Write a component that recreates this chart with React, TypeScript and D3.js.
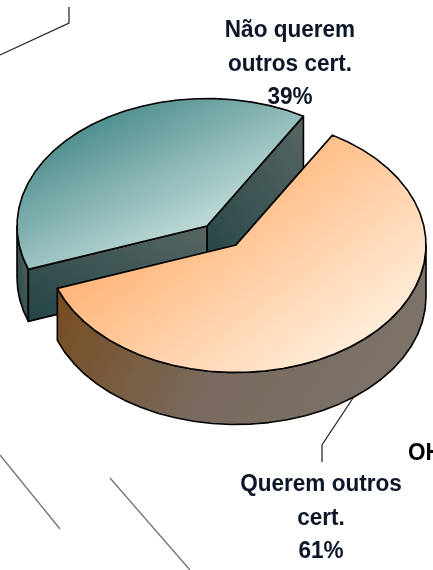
import * as d3 from "d3";

const categories = ["Não querem outros cert.", "Querem outros cert."];
const shares = [39, 61];
const labelLines = [
  ["Não querem", "outros cert.", "39%"],
  ["Querem outros", "cert.", "61%"],
];

const width = 433;
const height = 570;
const rx = 190;
const ry = 127.5;
const depth = 52;
const font = "'Liberation Sans', Arial, sans-serif";

// pie order in the picture: orange runs clockwise from the top right, teal fills the rest
const arcs = d3
  .pie<number>()
  .sort(null)
  .startAngle((30.5 * Math.PI) / 180 - 2 * Math.PI * 0.39)
  .endAngle((30.5 * Math.PI) / 180 + 2 * Math.PI * 0.61)(shares);

const centers = [
  { x: 207, y: 226 },
  { x: 236, y: 245 },
];
const line = d3.line<[number, number]>();

const rim = (cx: number, cy: number, a0: number, a1: number, dy = 0) => {
  const steps = Math.ceil(Math.abs(a1 - a0) / 0.1);
  return d3
    .range(steps + 1)
    .map((i) => a0 + ((a1 - a0) * i) / steps)
    .map((a) => [cx + rx * Math.sin(a), cy + dy - ry * Math.cos(a)] as [number, number]);
};

const topFace = (i: number) => {
  const { x, y } = centers[i];
  const a = arcs[i];
  return line([[x, y], ...rim(x, y, a.startAngle, a.endAngle)]) + "Z";
};

// outer wall between two angles, only the part that faces the viewer
const wall = (i: number, a0: number, a1: number) => {
  const { x, y } = centers[i];
  return line([...rim(x, y, a0, a1), ...rim(x, y, a1, a0, depth)]) + "Z";
};

const cut = (i: number, angle: number) => {
  const { x, y } = centers[i];
  const [[px, py]] = rim(x, y, angle, angle + 0.1);
  return line([[x, y], [px, py], [px, py + depth], [x, y + depth]]) + "Z";
};

export default function App() {
  const teal = arcs[0];
  const orange = arcs[1];
  return (
    <svg
      width={width}
      height={height}
      viewBox={`0 0 ${width} ${height}`}
      style={{ position: "absolute", left: 0, top: 0, background: "#fff" }}
      aria-label={categories.join(", ")}
    >
      <defs>
        <linearGradient id="tealTop" x1="0.1" y1="0.1" x2="0.8" y2="0.9">
          <stop offset="0" stopColor="#3a8180" />
          <stop offset="0.85" stopColor="#c6dfdd" />
        </linearGradient>
        <linearGradient id="orangeTop" x1="0.05" y1="0.15" x2="0.85" y2="0.85">
          <stop offset="0.12" stopColor="#ffa862" />
          <stop offset="1" stopColor="#ffedda" />
        </linearGradient>
        <linearGradient id="orangeWall" x1="0" y1="0" x2="1" y2="0.3">
          <stop offset="0" stopColor="#774816" />
          <stop offset="0.6" stopColor="#796a5e" />
          <stop offset="1" stopColor="#7b7268" />
        </linearGradient>
        <linearGradient id="tealWall" x1="0" y1="1" x2="1" y2="0">
          <stop offset="0" stopColor="#264545" />
          <stop offset="1" stopColor="#566663" />
        </linearGradient>
        <filter id="soft" x="-5%" y="-5%" width="110%" height="110%">
          <feGaussianBlur stdDeviation="0.35" />
        </filter>
      </defs>

      <g filter="url(#soft)">
        <g fill="none" stroke="#222" strokeWidth={1.2}>
          <path d="M69,7V23L0,55" />
          <path d="M355,395L322,445V462" />
        </g>
        <g fill="none" stroke="#777" strokeWidth={1.4}>
          <path d="M0,455L60,529" />
          <path d="M110,478L190,570" />
        </g>

        <g stroke="#000" strokeWidth={1.6} strokeLinejoin="round">
          <path d={wall(0, teal.startAngle, -Math.PI / 2)} fill="url(#tealWall)" />
          <path d={cut(0, teal.endAngle)} fill="url(#tealWall)" />
          <path d={cut(0, teal.startAngle)} fill="url(#tealWall)" />
          <path d={topFace(0)} fill="url(#tealTop)" />
          <path d={wall(1, Math.PI / 2, orange.endAngle)} fill="url(#orangeWall)" />
          <path d={topFace(1)} fill="url(#orangeTop)" />
        </g>

        <g
          fontFamily={font}
          fontWeight="bold"
          fontSize={24}
          fill="#0c1428"
          textAnchor="middle"
        >
          {labelLines[0].map((t, i) => (
            <text key={t} transform={`translate(290,${37 + i * 33.5}) scale(0.94,1)`}>
              {t}
            </text>
          ))}
          {labelLines[1].map((t, i) => (
            <text key={t} transform={`translate(321,${491 + i * 33.5}) scale(0.94,1)`}>
              {t}
            </text>
          ))}
          <text transform="translate(408,460) scale(0.94,1)" textAnchor="start" fill="#000">
            OH
          </text>
        </g>
      </g>
    </svg>
  );
}
